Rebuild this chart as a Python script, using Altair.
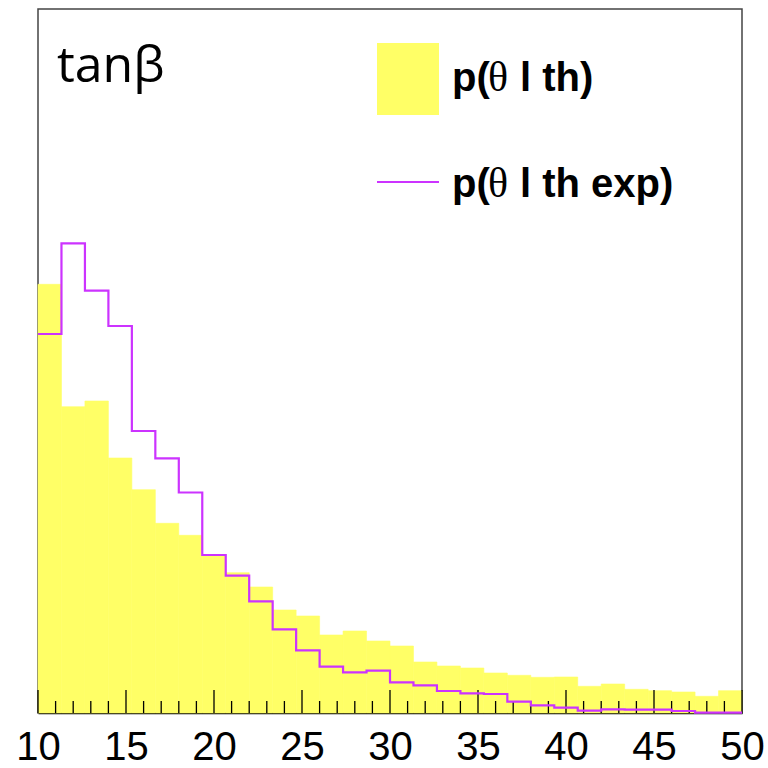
import altair as alt
import pandas as pd

# 30 bins between 10 and 50
x_min, x_max, n_bins = 10, 50, 30
bin_w = (x_max - x_min) / n_bins

# p(theta | th) - yellow filled histogram (arbitrary units)
p_th = [428.7, 306.3, 312.0, 255.0, 223.3, 189.7, 177.7, 157.0, 140.3, 126.0,
        103.0, 97.0, 78.0, 82.0, 72.0, 67.0, 51.0, 47.0, 45.0, 40.0,
        37.7, 35.7, 36.0, 26.7, 29.0, 23.7, 22.3, 21.0, 16.7, 22.3]

# p(theta | th exp) - magenta step line (arbitrary units)
p_th_exp = [379.0, 469.7, 422.3, 387.0, 282.0, 254.7, 220.5, 158.0, 137.3, 111.7,
            83.7, 62.7, 46.3, 40.7, 42.3, 30.7, 27.7, 22.0, 19.7, 19.0,
            11.3, 7.7, 5.3, 2.3, 3.7, 3.3, 3.3, 2.0, 0.3, 0.3]

major_ticks = [10, 15, 20, 25, 30, 35, 40, 45, 50]
minor_ticks = [v for v in range(11, 50) if v % 5 != 0]

W, H = 704, 704
YMAX = 704
YELLOW = "#ffff66"
MAGENTA = "#cc33ff"

bins = pd.DataFrame({
    "lo": [x_min + i * bin_w for i in range(n_bins)],
    "hi": [x_min + (i + 1) * bin_w for i in range(n_bins)],
    "th": p_th,
})
line_df = pd.DataFrame({
    "x": [x_min + i * bin_w for i in range(n_bins)] + [x_max],
    "v": p_th_exp + [p_th_exp[-1]],
})

xscale = alt.Scale(domain=[x_min, x_max], nice=False, zero=False)
yscale = alt.Scale(domain=[0, YMAX], nice=False)

hist = alt.Chart(bins).mark_rect(color=YELLOW, stroke=YELLOW, strokeWidth=0.6).encode(
    x=alt.X("lo:Q", scale=xscale,
            axis=alt.Axis(values=major_ticks, title=None, ticks=False, grid=False,
                          labelFont="Liberation Sans", labelFontSize=40,
                          labelColor="black", labelPadding=14, labelFlush=False,
                          labelOverlap=False, labelBound=False,
                          domainColor="black", domainWidth=1.5, format="d")),
    x2="hi:Q",
    y=alt.Y("th:Q", scale=yscale, axis=None),
    y2=alt.datum(0),
)

maj = alt.Chart(pd.DataFrame({"t": major_ticks})).mark_rule(color="black", strokeWidth=1.3).encode(
    x=alt.X("t:Q", scale=xscale), y=alt.value(H), y2=alt.value(H - 23))
mnr = alt.Chart(pd.DataFrame({"t": minor_ticks})).mark_rule(color="black", strokeWidth=1.3).encode(
    x=alt.X("t:Q", scale=xscale), y=alt.value(H), y2=alt.value(H - 12))

step = alt.Chart(line_df).mark_line(color=MAGENTA, strokeWidth=2.2, interpolate="step-after").encode(
    x=alt.X("x:Q", scale=xscale),
    y=alt.Y("v:Q", scale=yscale),
)

one = pd.DataFrame({"k": [0]})


def txt(s, x, y, font="Liberation Sans", size=40, weight="bold"):
    return alt.Chart(one).mark_text(text=s, font=font, fontSize=size, fontWeight=weight,
                                    align="left", baseline="alphabetic", color="black").encode(
        x=alt.value(x), y=alt.value(y))


title = txt("tanβ", 19, 73, font="Open Sans", size=50, weight="normal")
leg_box = alt.Chart(one).mark_rect(color=YELLOW).encode(
    x=alt.value(339), x2=alt.value(401), y=alt.value(34), y2=alt.value(106))
leg_line = alt.Chart(one).mark_rule(color=MAGENTA, strokeWidth=2.2).encode(
    x=alt.value(339), x2=alt.value(401), y=alt.value(173))

leg_labels = [
    txt("p(", 414, 82), txt("θ", 450, 82, font="Liberation Serif", size=42, weight="normal"),
    txt("l th)", 482, 82),
    txt("p(", 414, 188), txt("θ", 450, 188, font="Liberation Serif", size=42, weight="normal"),
    txt("l th exp)", 482, 188),
]

chart = alt.layer(hist, maj, mnr, step, title, leg_box, leg_line, *leg_labels).properties(
    width=W, height=H,
    autosize=alt.AutoSizeParams(type="none"),
    padding={"left": 38, "top": 9, "right": 26, "bottom": 55},
    view=alt.ViewBackground(stroke="#444444", strokeWidth=1.5),
).configure(background="white")

chart.save("out.html", embed_options={"renderer": "svg", "actions": False})
